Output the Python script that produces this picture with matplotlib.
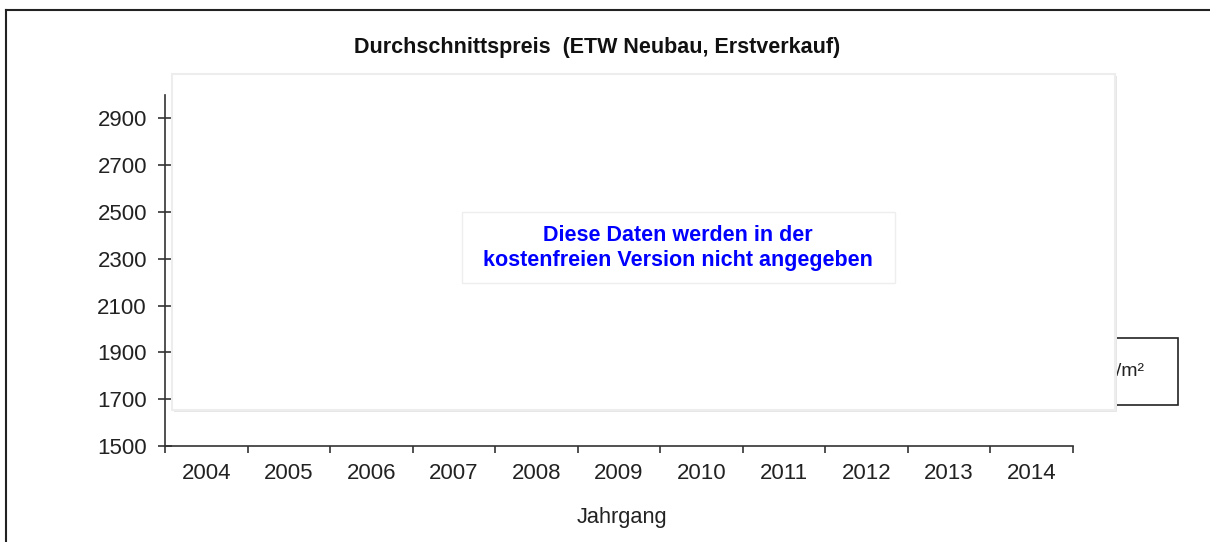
import matplotlib
matplotlib.use("Agg")
import numpy as np
import matplotlib.pyplot as plt
from matplotlib.patches import Rectangle
from matplotlib.lines import Line2D

# ----------------- Daten -----------------
JAHRGAENGE = [2004, 2005, 2006, 2007, 2008, 2009, 2010, 2011, 2012, 2013, 2014]
Y_TICKS = [1500, 1700, 1900, 2100, 2300, 2500, 2700, 2900]
Y_LIM = (1500, 3000)

TITEL = "Durchschnittspreis  (ETW Neubau, Erstverkauf)"
X_LABEL = "Jahrgang"
HINWEIS = "Diese Daten werden in der\nkostenfreien Version nicht angegeben"
LEGENDE = "€/m²"

W, H = 1210, 542
plt.rcParams["font.family"] = ["Liberation Sans", "DejaVu Sans"]

fig = plt.figure(figsize=(W / 100, H / 100), dpi=100)
fig.patch.set_facecolor("white")


def fx(px):
    return px / W


def fy(py):
    return 1 - py / H


# Achsen
ax = fig.add_axes([fx(165), fy(446), fx(1073) - fx(165), fy(95) - fy(446)])
ax.set_facecolor("white")
for s in ["top", "right"]:
    ax.spines[s].set_visible(False)
for s in ["left", "bottom"]:
    ax.spines[s].set_color("#333333")
    ax.spines[s].set_linewidth(1.2)

x = np.arange(len(JAHRGAENGE))
ax.set_xlim(-0.5, len(JAHRGAENGE) - 0.5)
ax.set_ylim(*Y_LIM)
ax.set_xticks(x)
ax.set_xticklabels([str(j) for j in JAHRGAENGE])
ax.set_xticks(np.arange(len(JAHRGAENGE) + 1) - 0.5, minor=True)
ax.tick_params(axis="x", which="major", length=0, pad=12, labelsize=16, colors="#222222")
ax.tick_params(axis="x", which="minor", length=5, width=1.2, color="#333333", direction="out")
ax.set_yticks(Y_TICKS)
ax.tick_params(axis="y", which="major", length=10, width=1.2, direction="inout",
               color="#333333", pad=8, labelsize=16, labelcolor="#222222")

# Rahmen (oben/links)
fig.add_artist(Line2D([fx(6), 1], [fy(10), fy(10)], color="#222222", lw=1.5))
fig.add_artist(Line2D([fx(6), fx(6)], [fy(10), 0], color="#222222", lw=1.5))

# Titel und Achsenbeschriftung
fig.text(fx(597), fy(48), TITEL, ha="center", va="center", fontsize=15.5,
         fontweight="bold", color="#111111")
fig.text(fx(622), fy(517), X_LABEL, ha="center", va="center", fontsize=15.7,
         color="#222222")

# Legendenbox (teilweise verdeckt)
fig.add_artist(Rectangle((fx(1113), fy(405)), fx(1178) - fx(1113), fy(338) - fy(405),
                         transform=fig.transFigure, fc="white", ec="#222222", lw=1.2, zorder=5))
fig.text(fx(1145), fy(371), LEGENDE, ha="right", va="center", fontsize=14,
         color="#222222", zorder=6)

# Overlay mit Schatten
fig.add_artist(Rectangle((fx(174), fy(412)), fx(1117) - fx(174), fy(76) - fy(412),
                         transform=fig.transFigure, fc="#e6e6e6", ec="none", zorder=9))
fig.add_artist(Rectangle((fx(172), fy(410)), fx(1115) - fx(172), fy(74) - fy(410),
                         transform=fig.transFigure, fc="white", ec="#ededed", lw=1.5, zorder=10))

# Hinweisbox
fig.add_artist(Rectangle((fx(462), fy(283)), fx(895) - fx(462), fy(212) - fy(283),
                         transform=fig.transFigure, fc="white", ec="#eeeeee", lw=1.0, zorder=11))
fig.text(fx(678), fy(248), HINWEIS, ha="center", va="center", fontsize=15.5,
         fontweight="bold", color="#0000ff", linespacing=1.25, zorder=12)

fig.savefig("out.png", dpi=100)
